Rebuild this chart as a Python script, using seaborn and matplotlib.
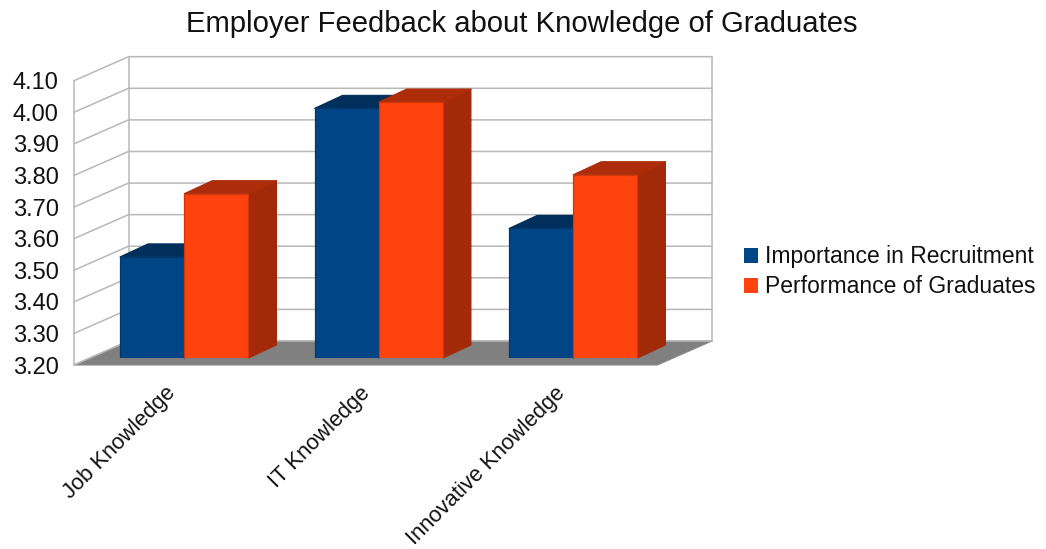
import pandas as pd
import numpy as np
import matplotlib
matplotlib.use('Agg')
import matplotlib.pyplot as plt
import seaborn as sns
from matplotlib.lines import Line2D
from matplotlib.patches import Polygon
from matplotlib.transforms import Affine2D, IdentityTransform

# Values
categories = ['Job Knowledge', 'IT Knowledge', 'Innovative Knowledge']
importance = [3.52, 3.99, 3.61]
performance = [3.72, 4.01, 3.78]
series_names = ['Importance in Recruitment', 'Performance of Graduates']
y_ticks = [3.2, 3.3, 3.4, 3.5, 3.6, 3.7, 3.8, 3.9, 4.0, 4.1]
colors = ['#004586', '#ff420e']

W, H = 1046, 549
FONT = 'Liberation Sans'
plt.rcParams['font.family'] = [FONT, 'DejaVu Sans']

df = pd.DataFrame({
    'Knowledge': categories * 2,
    'Score': importance + performance,
    'Series': [series_names[0]] * 3 + [series_names[1]] * 3,
})


def px_axes(fig, x0, y0, x1, y1, **kw):
    # pixel box measured from the top left of the image
    return fig.add_axes([x0 / W, 1 - y1 / H, (x1 - x0) / W, (y1 - y0) / H], **kw)


fig = plt.figure(figsize=(W / 100, H / 100), dpi=100, facecolor='white')

# Front plane of the box carries the ticks, bars sit a bit further back
ax_front = px_axes(fig, 74, 80.7, 657.5, 365, zorder=1)
ax_bars = px_axes(fig, 87, 73.6, 670.5, 358, zorder=3)

ax_front.set_xlim(-0.5, 2.5)
ax_front.set_ylim(y_ticks[0], y_ticks[-1])
ax_front.set_xticks(range(3))
ax_front.set_xticklabels(categories, rotation=45, ha='right', rotation_mode='anchor', fontsize=15.8, color='#111111')
ax_front.set_yticks(y_ticks)
ax_front.set_yticklabels([f'{t:.2f}' for t in y_ticks], fontsize=17, color='#111111')
ax_front.tick_params(axis='y', length=0, pad=11)
ax_front.tick_params(axis='x', length=0, pad=12.5)
for lab in ax_front.get_xticklabels():
    lab.set_transform(lab.get_transform() + Affine2D().translate(-6, 0))
ax_front.patch.set_alpha(0)
for s in ax_front.spines.values():
    s.set_visible(False)

sns.barplot(data=df, x='Knowledge', y='Score', hue='Series', palette=colors,
            saturation=1, width=0.66, gap=0, ax=ax_bars, linewidth=0.8, edgecolor='none')
ax_bars.set_xlim(-0.5, 2.5)
ax_bars.set_ylim(y_ticks[0], y_ticks[-1])
ax_bars.axis('off')
ax_bars.patch.set_alpha(0)
handles, labels = ax_bars.get_legend_handles_labels()
ax_bars.get_legend().remove()

fig.canvas.draw()
idt = IdentityTransform()
wall_color = '#b8b8b8'
wall_dx, wall_dy = 54.5, 24
bar_dx, bar_dy = 28, 13


def shade(color, f):
    return tuple(c * f for c in matplotlib.colors.to_rgb(color))


# Walls and floor, from the tick positions of the front plane
x_left = ax_front.transData.transform((-0.5, y_ticks[0]))
x_right = ax_front.transData.transform((2.5, y_ticks[0]))
fig.add_artist(Polygon([x_left, x_right, x_right + [wall_dx, wall_dy],
                        x_left + [wall_dx, wall_dy]],
                       transform=idt, facecolor='#808080', edgecolor='#8a8a8a', lw=0.8, zorder=0.5))
for t in y_ticks:
    p = ax_front.transData.transform((-0.5, t))
    fig.add_artist(Line2D([p[0], p[0] + wall_dx, x_right[0] + wall_dx],
                          [p[1], p[1] + wall_dy, p[1] + wall_dy],
                          transform=idt, color=wall_color, lw=1.1, zorder=0.6))
top_p = ax_front.transData.transform((-0.5, y_ticks[-1]))
for x_off, y_off in [(0, 0), (wall_dx, wall_dy)]:
    fig.add_artist(Line2D([x_left[0] + x_off] * 2, [x_left[1] + y_off, top_p[1] + y_off],
                          transform=idt, color=wall_color, lw=1.1, zorder=0.6))
fig.add_artist(Line2D([x_right[0] + wall_dx] * 2, [x_right[1] + wall_dy, top_p[1] + wall_dy],
                      transform=idt, color=wall_color, lw=1.1, zorder=0.6))

# Side and top faces of each bar, taken from the bars seaborn drew
for i, bar in enumerate(ax_bars.patches):
    h = bar.get_height()
    if h == 0:  # empty patches that only serve the legend
        continue
    face = bar.get_facecolor()
    x0 = bar.get_x()
    x1 = x0 + bar.get_width()
    lr = ax_bars.transData.transform((x1, y_ticks[0]))
    ul = ax_bars.transData.transform((x0, h))
    ur = ax_bars.transData.transform((x1, h))
    d = np.array([bar_dx, bar_dy])
    fig.add_artist(Polygon([lr, ur, ur + d, lr + d], transform=idt, facecolor=shade(face, 0.64),
                           edgecolor=shade(face, 0.64), lw=0.8, joinstyle='round', zorder=2 + i * 0.01))
    fig.add_artist(Polygon([ul, ur, ur + d, ul + d], transform=idt, facecolor=shade(face, 0.68),
                           edgecolor=shade(face, 0.68), lw=0.8, joinstyle='round', zorder=2 + i * 0.01))
    bar.set_edgecolor(shade(face, 0.82))
    bar.set_linewidth(0.9)

fig.text(522 / W, 1 - 24 / H, 'Employer Feedback about Knowledge of Graduates',
         ha='center', va='center', fontsize=21.1, color='#111111')

fig.legend(handles, labels, loc='upper left', bbox_to_anchor=(744 / W, 1 - 245.5 / H),
           frameon=False, fontsize=16.5, handlelength=0.6, handleheight=0.6,
           handletextpad=0.3, labelspacing=0.3, borderpad=0, borderaxespad=0, labelcolor='#111111')

fig.savefig('out.png', dpi=100)
plt.close(fig)
